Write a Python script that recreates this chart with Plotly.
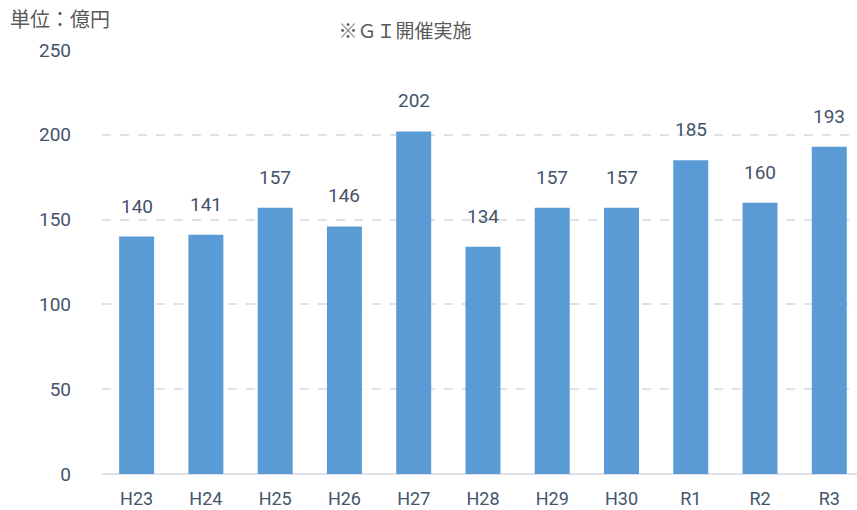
import plotly.graph_objects as go

categories = ["H23", "H24", "H25", "H26", "H27", "H28", "H29", "H30", "R1", "R2", "R3"]
values = [140, 141, 157, 146, 202, 134, 157, 157, 185, 160, 193]
yticks = [0, 50, 100, 150, 200, 250]

font_family = "Roboto, Noto Sans CJK JP, sans-serif"
cjk_family = "Noto Sans CJK JP, sans-serif"
label_color = "#44546a"

fig = go.Figure()
fig.add_trace(go.Bar(
    x=categories, y=values,
    marker=dict(color="#5b9bd5", line=dict(width=0)),
    hoverinfo="x+y",
))

for c, v in zip(categories, values):
    fig.add_annotation(x=c, y=v, text=str(v), showarrow=False,
                       yanchor="bottom", yshift=17,
                       font=dict(size=19, color=label_color, family=font_family))

plot_w = 857 - 102
plot_h = 510 - 50 - 36
fig.add_annotation(x=(8 - 102) / plot_w, y=1 + (50 - 18) / plot_h,
                   xref="paper", yref="paper",
                   text="単位：億円", showarrow=False, xanchor="left", yanchor="middle",
                   font=dict(size=20, color="#595959", family=cjk_family))

fig.update_layout(
    width=857, height=510,
    margin=dict(l=102, r=0, t=50, b=36),
    paper_bgcolor="white", plot_bgcolor="white",
    bargap=0.495,
    showlegend=False,
    title=dict(text="※ＧＩ開催実施", x=405/857, xanchor="center", y=1-31/510, yanchor="middle",
               font=dict(size=19, color="#595959", family=cjk_family)),
    font=dict(family=font_family, color=label_color),
    xaxis=dict(range=[-0.5, 10.4], showgrid=False, showline=False, zeroline=False,
               tickfont=dict(size=18, color=label_color), ticks="", ticklabelstandoff=12),
    yaxis=dict(range=[0, 250], tickvals=yticks, showgrid=True, gridcolor="#dde2ea",
               griddash="dash", gridwidth=2, zeroline=True, zerolinecolor="#dde2ea",
               zerolinewidth=2, showline=False, ticks="",
               tickfont=dict(size=19, color=label_color), ticklabelstandoff=30),
)

fig.write_html("out.html", config={"displayModeBar": False},
               post_script="document.body.style.margin='0';")
